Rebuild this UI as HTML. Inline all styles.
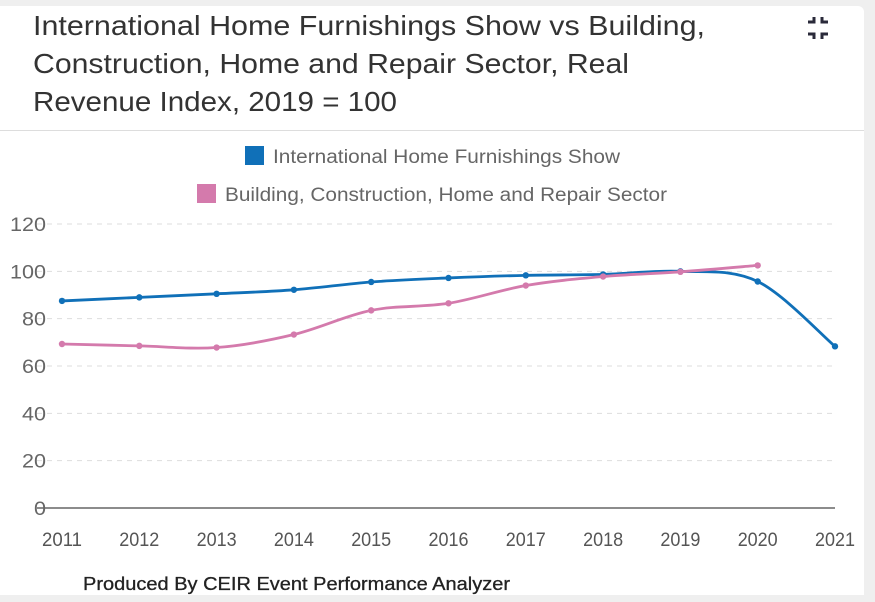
<!DOCTYPE html>
<html><head><meta charset="utf-8"><style>
body{margin:0;width:875px;height:602px;background:#efefef;font-family:"Liberation Sans",sans-serif;overflow:hidden;position:relative}
#card{position:absolute;left:0;top:6px;width:864px;height:589px;background:#fff;border-radius:0 6px 0 0}
#sep{position:absolute;left:0;top:124px;width:864px;height:1px;background:#ddd}
</style></head><body>
<div id="card">
<svg style="position:absolute;left:806px;top:10px" width="24" height="24">
<g fill="none" stroke="#2a2a3a" stroke-width="3"><path d="M2 6H8V1"/><path d="M22 6H16V1"/><path d="M2 18H8V23"/><path d="M22 18H16V23"/></g></svg>
<div id="sep"></div>
</div>
<svg id="chart" width="875" height="602" style="position:absolute;left:0;top:0">
<g font-size="28" fill="#333">
<text x="33" y="35" textLength="672" lengthAdjust="spacingAndGlyphs">International Home Furnishings Show vs Building,</text>
<text x="33" y="73" textLength="596" lengthAdjust="spacingAndGlyphs">Construction, Home and Repair Sector, Real</text>
<text x="33" y="111" textLength="364" lengthAdjust="spacingAndGlyphs">Revenue Index, 2019 = 100</text>
</g>
<text x="83" y="590" font-size="18" fill="#222" stroke="#222" stroke-width="0.3" textLength="427" lengthAdjust="spacingAndGlyphs">Produced By CEIR Event Performance Analyzer</text>
</svg>
<script>
const years=["2011","2012","2013","2014","2015","2016","2017","2018","2019","2020","2021"];
const showValues=[87.5,89,90.5,92.2,95.5,97.2,98.3,98.7,100,95.7,68.3];
const sectorValues=[69.3,68.5,67.8,73.3,83.5,86.5,94,97.8,99.8,102.5];
const yTicks=[0,20,40,60,80,100,120];
const seriesNames=["International Home Furnishings Show","Building, Construction, Home and Repair Sector"];
const colors=["#1070b8","#d47aac"];
const NS="http://www.w3.org/2000/svg",svg=document.getElementById('chart');
const X=i=>62+i*(835-62)/(years.length-1), Y=v=>508-v*(508-224)/120;
function el(t,a,p){const e=document.createElementNS(NS,t);for(const k in a)e.setAttribute(k,a[k]);(p||svg).appendChild(e);return e;}
yTicks.forEach(t=>{
 const g=el('g',{});
 
 
 el('line',{x1:37,x2:835,y1:Y(t),y2:Y(t),stroke:t?'#ddd':'#666','stroke-width':t?1:1.5,'stroke-dasharray':t?'5,5':''},g);
 const tx=el('text',{x:46,y:Y(t)+7,'text-anchor':'end','font-size':19,fill:'#666',textLength:String(t).length*12,lengthAdjust:'spacingAndGlyphs'},g);tx.textContent=t;
});
years.forEach((y,i)=>{const tx=el('text',{x:X(i)-20,y:546,'font-size':19,fill:'#555',textLength:40,lengthAdjust:'spacingAndGlyphs'});
 
 
 tx.textContent=y;});
function path(vals){const p=vals.map((v,i)=>[X(i),Y(v)]);let d='M'+p[0];
 for(let i=0;i<p.length-1;i++){const p0=p[i-1]||p[i],p1=p[i],p2=p[i+1],p3=p[i+2]||p2,s=1/6;
 d+=` C${p1[0]+(p2[0]-p0[0])*s},${p1[1]+(p2[1]-p0[1])*s} ${p2[0]-(p3[0]-p1[0])*s},${p2[1]-(p3[1]-p1[1])*s} ${p2[0]},${p2[1]}`;}return d;}
[showValues,sectorValues].forEach((vals,si)=>{
 const g=el('g',{});
 
 
 el('path',{d:path(vals),fill:'none',stroke:colors[si],'stroke-width':2.8},g);
 vals.forEach((v,i)=>el('circle',{cx:X(i),cy:Y(v),r:3.2,fill:colors[si]},g));
});
[[245,156,347],[197,194,442]].forEach((pos,i)=>{
 const g=el('g',{});
 
 
 el('rect',{x:pos[0],y:pos[1]-10,width:19,height:19,fill:colors[i]},g);
 const t=el('text',{x:pos[0]+28,y:pos[1]+7,'font-size':19,fill:'#666',textLength:pos[2],lengthAdjust:'spacingAndGlyphs'},g);t.textContent=seriesNames[i];
});
</script>
</body></html>
